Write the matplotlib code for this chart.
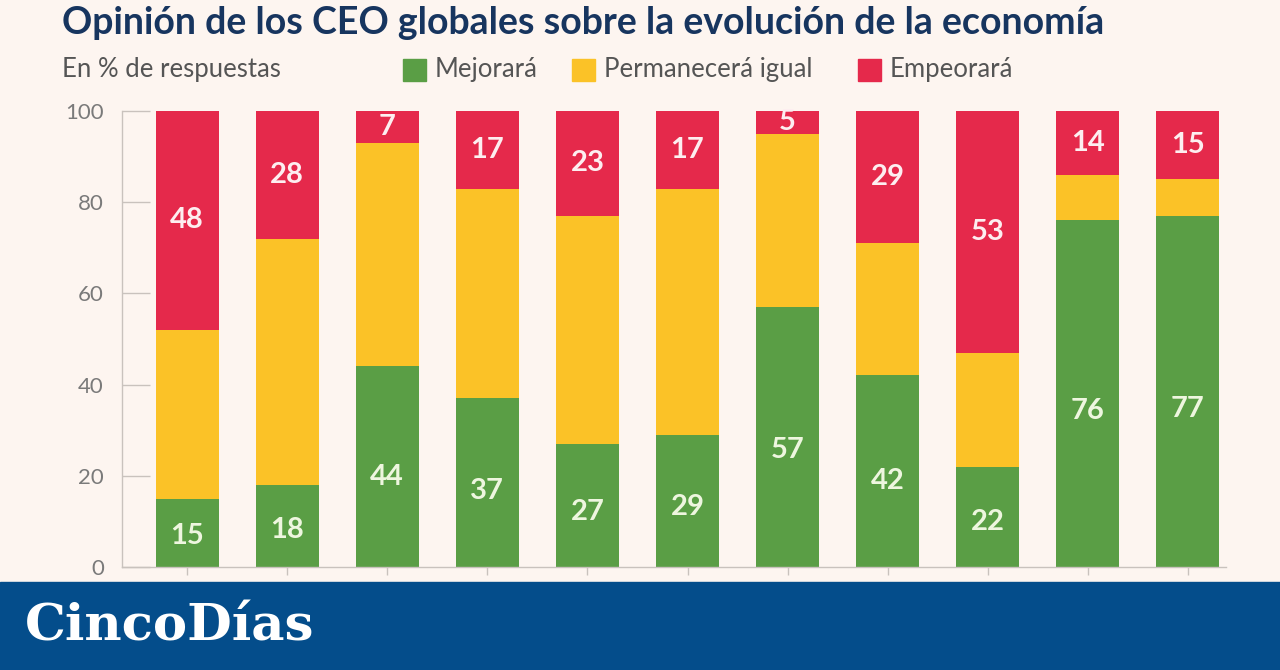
import matplotlib.pyplot as plt
import matplotlib.patches as patches
import numpy as np

# valores en % de respuestas (una barra por encuesta)
mejorara = [15, 18, 44, 37, 27, 29, 57, 42, 22, 76, 77]
empeorara = [48, 28, 7, 17, 23, 17, 5, 29, 53, 14, 15]
igual = [100 - m - e for m, e in zip(mejorara, empeorara)]

series = ["Mejorará", "Permanecerá igual", "Empeorará"]
colors = ["#5a9e45", "#fbc227", "#e5294b"]
BG = "#fdf5f0"
NAVY = "#17355f"
BANNER = "#044d8b"

plt.rcParams["font.family"] = ["Lato", "DejaVu Sans"]

fig = plt.figure(figsize=(12.8, 6.7), dpi=100, facecolor=BG)
ax = fig.add_axes([122 / 1280, 1 - 567 / 670, 1104 / 1280, 456 / 670])
ax.set_facecolor(BG)

x = np.arange(len(mejorara))
w = 0.63
green = np.array(mejorara)
yellow = np.array(igual)
red = np.array(empeorara)
ax.bar(x, green, w, color=colors[0], zorder=2)
ax.bar(x, yellow, w, bottom=green, color=colors[1], zorder=2)
ax.bar(x, red, w, bottom=green + yellow, color=colors[2], zorder=2)

lbl = dict(ha="center", va="center", fontsize=21, fontweight="bold", zorder=3)
for i in x:
    ax.text(i, green[i] * 0.45, str(green[i]), color="#eef6df", **lbl)
    ax.text(i, 100 - red[i] / 2, str(red[i]), color="#fdeef0", **lbl)

ax.set_xlim(-0.65, 10.38)
ax.set_ylim(0, 100)
ax.set_xticks(x)
ax.set_xticklabels([])
ax.set_yticks([0, 20, 40, 60, 80, 100])
ax.tick_params(axis="x", direction="out", length=6, color="#c9c2bd", width=1)
ax.tick_params(axis="y", direction="in", length=20, color="#c9c2bd", width=1,
               pad=13, labelsize=16, labelcolor="#7a7a7a")
for s in ["top", "right"]:
    ax.spines[s].set_visible(False)
for s in ["left", "bottom"]:
    ax.spines[s].set_color("#c9c2bd")
    ax.spines[s].set_linewidth(1)

fig.text(62 / 1280, 1 - 23 / 670, "Opinión de los CEO globales sobre la evolución de la economía",
         fontsize=27, fontweight="bold", color=NAVY, va="center", ha="left")
fig.text(62 / 1280, 1 - 69 / 670, "En % de respuestas", fontsize=18.5,
         color="#555555", va="center", ha="left")

# leyenda en línea
legend_x = [403, 572, 858]
for lx, name, c in zip(legend_x, series, colors):
    fig.patches.append(patches.Rectangle((lx / 1280, 1 - 81 / 670), 23 / 1280, 22 / 670,
                                         transform=fig.transFigure, color=c))
    fig.text((lx + 32) / 1280, 1 - 69 / 670, name, fontsize=18.5, color="#555555",
             va="center", ha="left")

# franja inferior con logo
fig.patches.append(patches.Rectangle((0, 0), 1, 88 / 670, transform=fig.transFigure,
                                     color=BANNER, zorder=0))
fig.text(25 / 1280, 1 - 627 / 670, "CincoDías", fontsize=37, fontweight="bold",
         family="DejaVu Serif", color="white", va="center", ha="left")

fig.savefig("out.png", dpi=100, facecolor=BG)
